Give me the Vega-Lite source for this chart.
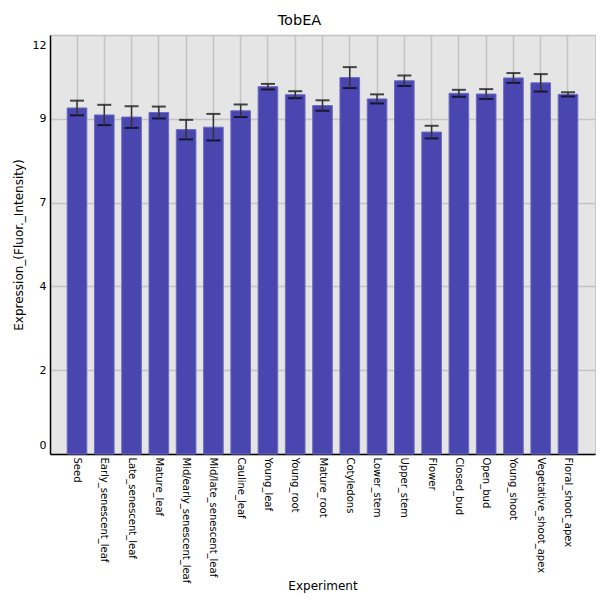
{
  "$schema": "https://vega.github.io/schema/vega-lite/v6.json",
  "autosize": "none",
  "width": 545,
  "height": 419,
  "padding": {"left": 50, "top": 35, "right": 5, "bottom": 146},
  "background": "white",
  "title": {
    "text": "TobEA",
    "fontSize": 14.5,
    "fontWeight": "normal",
    "color": "#000000",
    "anchor": "middle",
    "dx": -23,
    "dy": -3
  },
  "config": {
    "font": "DejaVu Sans",
    "view": {"fill": "#E5E5E5", "stroke": "#C8C8C8"}
  },
  "data": {
    "values": [
      {"experiment": "Seed", "mean": 9.91, "sd": 0.21},
      {"experiment": "Early_senescent_leaf", "mean": 9.71, "sd": 0.29},
      {"experiment": "Late_senescent_leaf", "mean": 9.65, "sd": 0.31},
      {"experiment": "Mature_leaf", "mean": 9.78, "sd": 0.17},
      {"experiment": "Mid/early_senescent_leaf", "mean": 9.29, "sd": 0.28},
      {"experiment": "Mid/late_senescent_leaf", "mean": 9.36, "sd": 0.38},
      {"experiment": "Cauline_leaf", "mean": 9.83, "sd": 0.18},
      {"experiment": "Young_leaf", "mean": 10.52, "sd": 0.08},
      {"experiment": "Young_root", "mean": 10.29, "sd": 0.10},
      {"experiment": "Mature_root", "mean": 9.98, "sd": 0.15},
      {"experiment": "Cotyledons", "mean": 10.78, "sd": 0.30},
      {"experiment": "Lower_stem", "mean": 10.17, "sd": 0.13},
      {"experiment": "Upper_stem", "mean": 10.69, "sd": 0.15},
      {"experiment": "Flower", "mean": 9.22, "sd": 0.18},
      {"experiment": "Closed_bud", "mean": 10.33, "sd": 0.10},
      {"experiment": "Open_bud", "mean": 10.31, "sd": 0.14},
      {"experiment": "Young_shoot", "mean": 10.77, "sd": 0.14},
      {"experiment": "Vegetative_shoot_apex", "mean": 10.63, "sd": 0.25},
      {"experiment": "Floral_shoot_apex", "mean": 10.30, "sd": 0.06}
    ]
  },
  "encoding": {
    "x": {
      "field": "experiment",
      "type": "nominal",
      "sort": null,
      "title": "Experiment",
      "scale": {"paddingInner": 0.28, "paddingOuter": 0.63},
      "axis": {
        "labelAngle": 90,
        "labelAlign": "left",
        "labelBaseline": "middle",
        "labelFontSize": 10,
        "labelColor": "#000000",
        "labelPadding": 3,
        "ticks": false,
        "tickSize": 0,
        "grid": true,
        "gridColor": "#C4C4C4",
        "gridOpacity": 1,
        "gridWidth": 1.5,
        "domainColor": "#000000",
        "domainWidth": 1.5,
        "titleFontSize": 12,
        "titleFontWeight": "normal",
        "titleColor": "#000000",
        "titleY": 131,
        "titleBaseline": "middle"
      }
    },
    "y": {
      "field": "mean",
      "type": "quantitative",
      "title": "Expression_(Fluor._Intensity)",
      "scale": {"domain": [0, 12], "nice": false, "zero": true},
      "axis": {
        "values": [0, 2.4, 4.8, 7.2, 9.6, 12],
        "labelExpr": "floor(datum.value)",
        "labelFlush": true,
        "labelFlushOffset": -4,
        "labelFontSize": 11,
        "labelColor": "#000000",
        "labelPadding": 4,
        "ticks": false,
        "tickSize": 0,
        "grid": true,
        "gridColor": "#C4C4C4",
        "gridOpacity": 1,
        "gridWidth": 1.5,
        "domainColor": "#000000",
        "domainWidth": 1.5,
        "titleFontSize": 12,
        "titleFontWeight": "normal",
        "titleColor": "#000000",
        "titlePadding": 7
      }
    }
  },
  "layer": [
    {
      "mark": {"type": "bar", "color": "#4A46B0", "stroke": "#6E6BC2", "strokeWidth": 1}
    },
    {
      "mark": {
        "type": "errorbar",
        "ticks": {"size": 14, "thickness": 2, "color": "#000000"},
        "rule": {"color": "#333333", "strokeWidth": 1.5}
      },
      "encoding": {
        "yError": {"field": "sd"}
      }
    }
  ]
}
